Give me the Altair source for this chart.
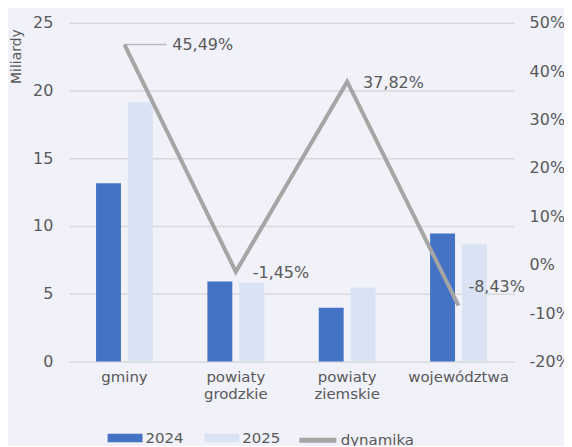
import altair as alt
import pandas as pd

categories = ["gminy", "powiaty grodzkie", "powiaty ziemskie", "województwa"]
series = ["2024", "2025"]
values_2024 = [13.15, 5.9, 3.97, 9.45]
values_2025 = [19.13, 5.81, 5.47, 8.65]
dynamika = [45.49, -1.45, 37.82, -8.43]
dyn_labels = ["45,49%", "-1,45%", "37,82%", "-8,43%"]

FONT = "DejaVu Sans"
TXT = "#595959"
GRID = "#D9D9D9"
BG = "#F0F1F9"

bar_rows = []
for c, a, b in zip(categories, values_2024, values_2025):
    bar_rows.append({"category": c, "series": series[0], "value": a})
    bar_rows.append({"category": c, "series": series[1], "value": b})
bar_df = pd.DataFrame(bar_rows)

line_df = pd.DataFrame({
    "category": categories,
    "dyn": dynamika,
    "label": dyn_labels,
    "name": ["dynamika"] * len(categories),
})

xenc = alt.X(
    "category:N", sort=categories,
    scale=alt.Scale(paddingInner=0, paddingOuter=0),
    axis=alt.Axis(title=None, domain=False, ticks=False, labelAngle=0,
                  labelExpr="split(datum.value, ' ')", labelFontSize=15,
                  labelLineHeight=17, labelPadding=8, labelColor=TXT, labelFont=FONT),
)

bars = alt.Chart(bar_df).mark_bar().encode(
    x=xenc,
    xOffset=alt.XOffset("series:N", sort=series,
                        scale=alt.Scale(paddingInner=0.21875, paddingOuter=0.855)),
    y=alt.Y("value:Q", scale=alt.Scale(domain=[0, 25]),
            axis=alt.Axis(values=[0, 5, 10, 15, 20, 25], title="Miliardy",
                          grid=True, gridColor=GRID, gridWidth=1.5, domain=False, ticks=False,
                          labelPadding=16, labelFontSize=16, labelColor=TXT, labelFont=FONT,
                          titleFont=FONT, titleFontSize=14, titleFontWeight="normal",
                          titleColor=TXT, titleAngle=270, titleAlign="right",
                          titleX=-45, titleY=6)),
    color=alt.Color("series:N", sort=series,
                    scale=alt.Scale(domain=series, range=["#4472C4", "#DAE3F3"]),
                    legend=alt.Legend(title=None, orient="none", direction="horizontal",
                                      legendX=39, legendY=399,
                                      symbolType="M-1,-0.25L1,-0.25L1,0.25L-1,0.25Z",
                                      symbolSize=1225, symbolStrokeWidth=0,
                                      labelFontSize=15, labelFont=FONT, labelColor=TXT,
                                      labelOffset=3, columnPadding=20, padding=0)),
)

yright = alt.Y("dyn:Q", scale=alt.Scale(domain=[-20, 50]),
               axis=alt.Axis(orient="right", values=[-20, -10, 0, 10, 20, 30, 40, 50],
                             labelExpr="datum.value + '%'", grid=False, domain=False,
                             ticks=False, labelPadding=15, labelFontSize=16,
                             labelColor=TXT, labelFont=FONT, title=None))

line = alt.Chart(line_df).mark_line(strokeWidth=4).encode(
    x=xenc,
    y=yright,
    stroke=alt.Stroke("name:N",
                      scale=alt.Scale(domain=["dynamika"], range=["#A5A5A5"]),
                      legend=alt.Legend(title=None, orient="none", direction="horizontal",
                                        legendX=229, legendY=398,
                                        symbolType="stroke", symbolSize=1369,
                                        symbolStrokeWidth=5,
                                        labelFontSize=15, labelFont=FONT, labelColor=TXT,
                                        labelOffset=2, padding=0)),
)

leader = alt.Chart(line_df).transform_filter(
    alt.datum.category == categories[0]
).mark_tick(orient="horizontal", size=42, thickness=1.5, xOffset=21, color="#A5A5A5").encode(
    x=xenc, y=yright)

offsets = [(48, 0), (17, 1), (16, 1), (10, -19)]
texts = []
for cat, (dx, dy) in zip(categories, offsets):
    texts.append(
        alt.Chart(line_df).transform_filter(alt.datum.category == cat)
        .mark_text(align="left", baseline="middle", dx=dx, dy=dy, fontSize=16,
                   font=FONT, color=TXT)
        .encode(x=xenc, y=yright, text="label:N")
    )

right = alt.layer(line, leader, *texts)

chart = alt.layer(bars, right).resolve_scale(
    y="independent"
).properties(
    width=447, height=340,
    autosize=alt.AutoSizeParams(type="none"),
    padding={"left": 61, "top": 14, "right": 50, "bottom": 84},
    background=BG,
).configure_view(stroke=None)

chart.save("out.html", embed_options={"renderer": "svg", "actions": False})
